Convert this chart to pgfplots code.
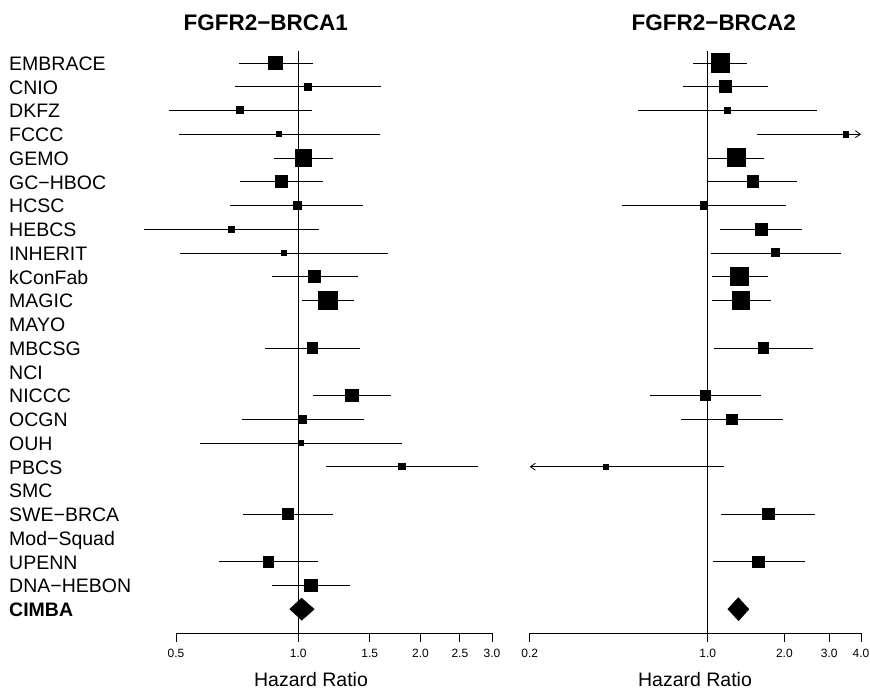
\documentclass[border=0pt]{standalone}
\usepackage{pgfplots}
\pgfplotsset{compat=1.18}
\usepackage{pgfplotstable}
\usepackage{fontspec}
\setmainfont{Liberation Sans}
\usetikzlibrary{arrows.meta}

% y = position from the bottom (CIMBA = 1), hr = hazard ratio, h = half side of the square
\pgfplotstableread{
y hr h
24 0.879 6.6
23 1.057 3.6
22 0.719 3.5
21 0.899 2.5
20 1.031 8.3
19 0.908 6.0
18 0.993 4.0
17 0.686 2.9
16 0.922 2.5
15 1.099 5.9
14 1.184 9.3
12 1.083 5.2
10 1.357 6.2
9 1.027 4.0
8 1.017 2.4
7 1.80 3.1
5 0.945 5.4
3 0.845 5.4
2 1.077 6.4
}\brcaone

\pgfplotstableread{
y hr h
24 1.121 9.3
23 1.177 6.0
22 1.198 2.9
21 3.49 2.9
20 1.30 9.0
19 1.506 5.9
18 0.967 3.7
17 1.624 6.2
16 1.854 4.0
15 1.339 9.0
14 1.351 8.7
12 1.654 5.2
10 0.978 4.9
9 1.246 5.2
7 0.400 2.5
5 1.73 5.7
3 1.586 5.7
}\brcatwo

\pgfplotsset{ci/.style={black, line width=0.8pt}}

\begin{document}
\begin{tikzpicture}
\useasboundingbox (0pt,0pt) rectangle (870pt,690pt);

\begin{axis}[
  xmode=log, scale only axis, height=581.9pt, clip=false,
  at={(176pt,57pt)}, anchor=south west, width=316pt,
  xmin=0.5, xmax=3.0, ymin=0, ymax=24.5,
  axis x line=bottom, x axis line style={-, line width=0.8pt},
  tick align=outside, major tick length=9pt,
  xtick style={line width=0.8pt, black},
  xticklabel style={font=\fontsize{12}{13}\selectfont, anchor=base, yshift=-16pt},
  xtick={0.5,1,1.5,2,2.5,3},
  xticklabels={0.5,1.0,1.5,2.0,2.5,3.0},
  axis y line*=left, y axis line style={draw=none}, ytick style={draw=none},
  ytick={1,...,24},
  yticklabels={\textbf{CIMBA}, DNA−HEBON, UPENN, Mod−Squad, SWE−BRCA, SMC, PBCS, OUH,
    OCGN, NICCC, NCI, MBCSG, MAYO, MAGIC, kConFab, INHERIT, HEBCS, HCSC,
    GC−HBOC, GEMO, FCCC, DKFZ, CNIO, EMBRACE},
  yticklabel style={font=\fontsize{19.5}{20}\selectfont, anchor=base west,
    inner sep=0pt, xshift=-158pt, yshift=-7.5pt},
]
\addplot[ci] coordinates {(1,0) (1,24.5)};
% confidence intervals
\addplot[ci] coordinates {(0.714,24) (1.085,24)};
\addplot[ci] coordinates {(0.698,23) (1.60,23)};
\addplot[ci] coordinates {(0.480,22) (1.079,22)};
\addplot[ci] coordinates {(0.509,21) (1.59,21)};
\addplot[ci] coordinates {(0.872,20) (1.218,20)};
\addplot[ci] coordinates {(0.719,19) (1.148,19)};
\addplot[ci] coordinates {(0.680,18) (1.444,18)};
\addplot[ci] coordinates {(0.417,17) (1.127,17)};
\addplot[ci] coordinates {(0.512,16) (1.66,16)};
\addplot[ci] coordinates {(0.864,15) (1.40,15)};
\addplot[ci] coordinates {(1.023,14) (1.375,14)};
\addplot[ci] coordinates {(0.826,12) (1.42,12)};
\addplot[ci] coordinates {(1.085,10) (1.693,10)};
\addplot[ci] coordinates {(0.725,9) (1.449,9)};
\addplot[ci] coordinates {(0.573,8) (1.80,8)};
\addplot[ci] coordinates {(1.173,7) (2.77,7)};
\addplot[ci] coordinates {(0.733,5) (1.218,5)};
\addplot[ci] coordinates {(0.638,3) (1.118,3)};
\addplot[ci] coordinates {(0.864,2) (1.344,2)};
\addplot[scatter, only marks, mark=square*,
  scatter/use mapped color={draw=black, fill=black},
  visualization depends on={\thisrow{h} \as \hs},
  scatter/@pre marker code/.append style={/tikz/mark size=\hs},
  mark options={line width=0pt}] table[x=hr, y=y] {\brcaone};
\addplot[black, fill=black] coordinates {(0.952,1) (1.019,1.47) (1.095,1) (1.019,0.53)};
\end{axis}

\begin{axis}[
  xmode=log, scale only axis, height=581.9pt, clip=false,
  at={(529.7pt,57pt)}, anchor=south west, width=331.3pt,
  xmin=0.2, xmax=4.0, ymin=0, ymax=24.5,
  axis x line=bottom, x axis line style={-, line width=0.8pt},
  tick align=outside, major tick length=9pt,
  xtick style={line width=0.8pt, black},
  xticklabel style={font=\fontsize{12}{13}\selectfont, anchor=base, yshift=-16pt},
  xtick={0.2,1,2,3,4},
  xticklabels={0.2,1.0,2.0,3.0,4.0},
  axis y line=none,
]
\addplot[ci] coordinates {(1,0) (1,24.5)};
\addplot[ci] coordinates {(0.878,24) (1.423,24)};
\addplot[ci] coordinates {(0.802,23) (1.73,23)};
\addplot[ci] coordinates {(0.534,22) (2.69,22)};
\addplot[ci, -{Straight Barb[length=5pt, width=7pt]}] coordinates {(1.557,21) (4.0,21)};
\addplot[ci] coordinates {(1.005,20) (1.668,20)};
\addplot[ci] coordinates {(1.0,19) (2.248,19)};
\addplot[ci] coordinates {(0.459,18) (2.03,18)};
\addplot[ci] coordinates {(1.121,17) (2.35,17)};
\addplot[ci] coordinates {(1.03,16) (3.33,16)};
\addplot[ci] coordinates {(1.042,15) (1.73,15)};
\addplot[ci] coordinates {(1.039,14) (1.768,14)};
\addplot[ci] coordinates {(1.058,12) (2.59,12)};
\addplot[ci] coordinates {(0.595,10) (1.619,10)};
\addplot[ci] coordinates {(0.786,9) (1.97,9)};
\addplot[ci, -{Straight Barb[length=5pt, width=7pt]}] coordinates {(1.156,7) (0.2,7)};
\addplot[ci] coordinates {(1.128,5) (2.65,5)};
\addplot[ci] coordinates {(1.052,3) (2.40,3)};
\addplot[scatter, only marks, mark=square*,
  scatter/use mapped color={draw=black, fill=black},
  visualization depends on={\thisrow{h} \as \hs},
  scatter/@pre marker code/.append style={/tikz/mark size=\hs},
  mark options={line width=0pt}] table[x=hr, y=y] {\brcatwo};
\addplot[black, fill=black] coordinates {(1.198,1) (1.319,1.49) (1.452,1) (1.319,0.51)};
\end{axis}

\node[anchor=base, font=\fontsize{22.5}{24}\selectfont\bfseries] at (265.8pt,659.3pt) {FGFR2−BRCA1};
\node[anchor=base, font=\fontsize{22.5}{24}\selectfont\bfseries] at (713.8pt,659.3pt) {FGFR2−BRCA2};
\node[anchor=base, font=\fontsize{19.5}{20}\selectfont] at (311pt,3.5pt) {Hazard Ratio};
\node[anchor=base, font=\fontsize{19.5}{20}\selectfont] at (695pt,3.5pt) {Hazard Ratio};
\end{tikzpicture}
\end{document}
